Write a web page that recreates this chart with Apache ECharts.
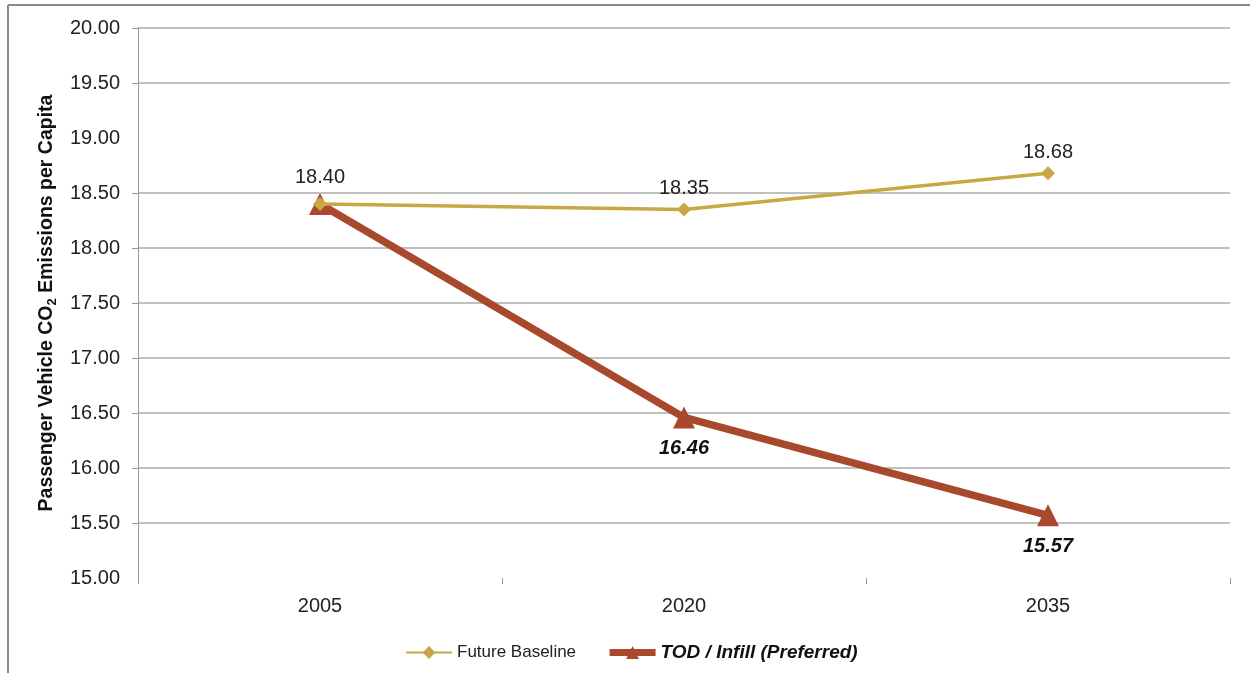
<!DOCTYPE html>
<html>
<head>
<meta charset="utf-8">
<script src="https://cdn.jsdelivr.net/npm/echarts@6/dist/echarts.min.js"></script>
<style>
html,body{margin:0;padding:0;background:#fff;}
#chart{width:1250px;height:673px;}
</style>
</head>
<body>
<div id="chart"></div>
<script>
const categories = ['2005', '2020', '2035'];
const baselineValues = [18.40, 18.35, 18.68];
const todValues = [18.40, 16.46, 15.57];
const seriesNames = ['Future Baseline', 'TOD / Infill (Preferred)'];
const yTickValues = [15.5, 16, 16.5, 17, 17.5, 18, 18.5, 19.5, 20];

const gold = '#C9A646';
const brown = '#A8482C';
const font = '"Liberation Sans", Arial, sans-serif';

const chart = echarts.init(document.getElementById('chart'), null, {renderer: 'canvas'});
chart.setOption({
  animation: false,
  backgroundColor: '#fff',
  textStyle: {fontFamily: font},
  graphic: [
    {type: 'line', shape: {x1: 8, y1: 5, x2: 1250, y2: 5}, style: {stroke: '#8a8a8a', lineWidth: 2}},
    {type: 'line', shape: {x1: 8, y1: 5, x2: 8, y2: 673}, style: {stroke: '#8a8a8a', lineWidth: 2}}
  ],
  grid: {left: 138, top: 28, right: 20, bottom: 95, containLabel: false},
  legend: {
    left: 400, top: 638,
    itemWidth: 46, itemHeight: 16, itemGap: 30,
    data: [
      {name: seriesNames[0], textStyle: {fontSize: 17, color: '#222', fontFamily: font}},
      {name: seriesNames[1], lineStyle: {width: 7}, textStyle: {fontSize: 19, color: '#111', fontWeight: 'bold', fontStyle: 'italic', fontFamily: font}}
    ]
  },
  xAxis: {
    type: 'category',
    data: categories,
    boundaryGap: true,
    axisLine: {show: false},
    axisTick: {show: true, length: 6, lineStyle: {color: '#999'}},
    axisLabel: {fontSize: 20, color: '#222', margin: 18, fontFamily: font},
    splitLine: {show: false}
  },
  yAxis: {
    type: 'value',
    min: 15, max: 20, interval: 0.5,
    name: '{a|Passenger Vehicle CO}{s|2}{a| Emissions per Capita}',
    nameLocation: 'middle',
    nameGap: 78,
    nameRotate: 90,
    nameTextStyle: {
      rich: {
        a: {fontSize: 19.5, fontWeight: 'bold', color: '#111', fontFamily: font},
        s: {fontSize: 13, fontWeight: 'bold', color: '#111', fontFamily: font, padding: [11, 0, 0, 0]}
      }
    },
    axisLine: {show: true, lineStyle: {color: '#999', width: 1}},
    axisTick: {show: true, length: 6, lineStyle: {color: '#999'}, customValues: yTickValues},
    axisLabel: {fontSize: 20, color: '#222', margin: 18, fontFamily: font, formatter: v => v.toFixed(2)},
    splitLine: {show: false, lineStyle: {color: 'rgba(0,0,0,0)'}}
  },
  series: [
    {
      name: 'grid',
      type: 'line',
      data: [],
      silent: true,
      z: 0,
      markLine: {
        silent: true,
        z: 0,
        symbol: ['none', 'none'],
        label: {show: false},
        lineStyle: {color: '#ababab', width: 1.5, type: 'solid'},
        emphasis: {disabled: true},
        data: yTickValues.map(v => ({yAxis: v}))
      }
    },
    {
      name: seriesNames[1],
      type: 'line',
      data: todValues.map((v, i) => ({
        value: v,
        label: i === 0
          ? {show: true, position: 'top', distance: 6, fontWeight: 'normal', fontStyle: 'normal', color: '#222'}
          : {show: true}
      })),
      symbol: 'triangle',
      symbolSize: 22,
      color: brown,
      lineStyle: {width: 7.5, color: brown},
      itemStyle: {color: brown},
      label: {
        position: 'bottom', distance: 10,
        fontSize: 20, fontWeight: 'bold', fontStyle: 'italic', color: '#111', fontFamily: font,
        formatter: p => p.value.toFixed(2)
      },
      z: 2
    },
    {
      name: seriesNames[0],
      type: 'line',
      data: baselineValues.map((v, i) => ({value: v, label: {show: i !== 0}})),
      symbol: 'diamond',
      symbolSize: 14,
      color: gold,
      lineStyle: {width: 3.5, color: gold},
      itemStyle: {color: gold},
      label: {
        position: 'top', distance: 4,
        fontSize: 20, color: '#222', fontFamily: font,
        formatter: p => p.value.toFixed(2)
      },
      z: 3
    }
  ]
});
</script>
</body>
</html>
